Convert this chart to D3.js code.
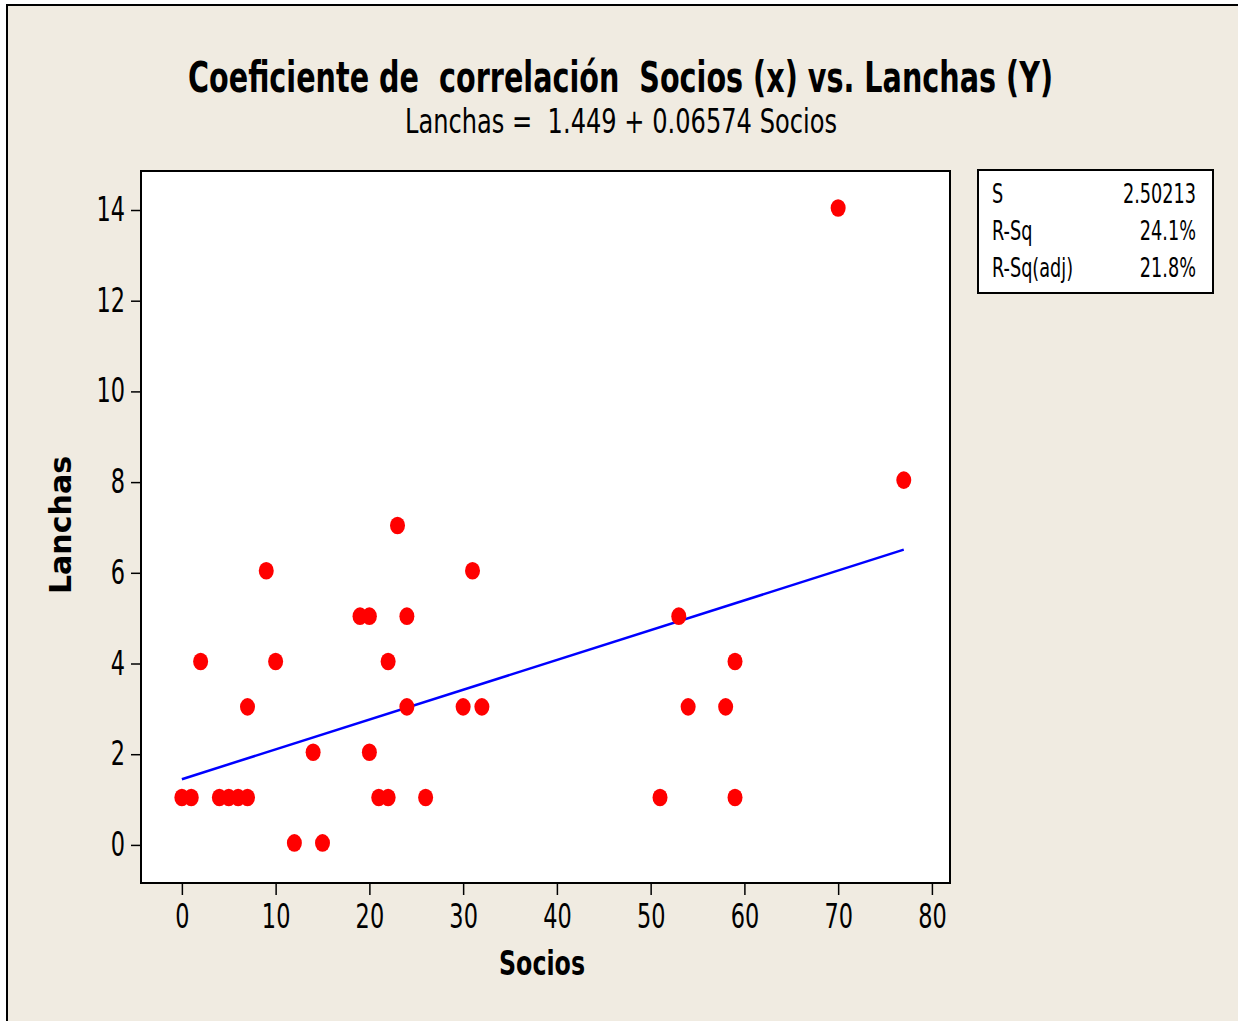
<!DOCTYPE html>
<html>
<head>
<meta charset="utf-8">
<script src="https://cdn.jsdelivr.net/npm/d3@7"></script>
<style>
  body { margin: 0; background: #ffffff; }
  text { font-family: "DejaVu Sans", Verdana, sans-serif; fill: #000; white-space: pre; }
</style>
</head>
<body>
<svg id="chart" width="1238" height="1021"></svg>
<script>
// data
const socios = [0, 1, 4, 5, 6, 7, 21, 22, 26, 51, 59,
  12, 15,
  14, 20,
  7, 24, 30, 32, 54, 58,
  2, 10, 22, 59,
  19, 20, 24, 53,
  9, 31,
  23,
  77,
  70];
const lanchas = [1, 1, 1, 1, 1, 1, 1, 1, 1, 1, 1,
  0, 0,
  2, 2,
  3, 3, 3, 3, 3, 3,
  4, 4, 4, 4,
  5, 5, 5, 5,
  6, 6,
  7,
  8,
  14];
const xTicks = [0, 10, 20, 30, 40, 50, 60, 70, 80];
const yTicks = [0, 2, 4, 6, 8, 10, 12, 14];
const intercept = 1.449;
const slope = 0.06574;
const statLabels = ["S", "R-Sq", "R-Sq(adj)"];
const statValues = ["2.50213", "24.1%", "21.8%"];

const SX = 0.68; // horizontal squeeze of the original fonts

const svg = d3.select("#chart");
const plot = { left: 141, top: 171, right: 950, bottom: 883 };

const x = d3.scaleLinear().domain([-4.36, 81.93]).range([plot.left, plot.right]);
const y = d3.scaleLinear().domain([-0.84, 14.86]).range([plot.bottom, plot.top]);

// page background and frame
svg.append("rect")
  .attr("x", 7).attr("y", 5).attr("width", 1245).attr("height", 1030)
  .attr("fill", "#f0ebe1").attr("stroke", "#000").attr("stroke-width", 2);

// titles
svg.append("text")
  .attr("x", 188).attr("y", 92)
  .attr("font-size", 42).attr("font-weight", "bold")
  .attr("textLength", 865).attr("lengthAdjust", "spacingAndGlyphs")
  .text("Coeficiente de  correlación  Socios (x) vs. Lanchas (Y)");

svg.append("text")
  .attr("x", 405).attr("y", 133)
  .attr("font-size", 33)
  .attr("textLength", 432).attr("lengthAdjust", "spacingAndGlyphs")
  .text("Lanchas =  1.449 + 0.06574 Socios");

// plot area
svg.append("rect")
  .attr("x", plot.left).attr("y", plot.top)
  .attr("width", plot.right - plot.left).attr("height", plot.bottom - plot.top)
  .attr("fill", "#fff").attr("stroke", "#000").attr("stroke-width", 2);

// axes
const xAxis = svg.append("g")
  .attr("transform", `translate(0,${plot.bottom})`)
  .call(d3.axisBottom(x).tickValues(xTicks).tickSize(12).tickSizeOuter(0).tickPadding(10));
xAxis.select(".domain").remove();
xAxis.selectAll(".tick line").attr("stroke", "#000").attr("stroke-width", 1.5);
xAxis.selectAll(".tick text")
  .attr("font-size", 33).attr("font-family", "DejaVu Sans")
  .attr("transform", `scale(${SX},1)`);

const yAxis = svg.append("g")
  .attr("transform", `translate(${plot.left},0)`)
  .call(d3.axisLeft(y).tickValues(yTicks).tickSize(10).tickSizeOuter(0).tickPadding(6));
yAxis.select(".domain").remove();
yAxis.selectAll(".tick line").attr("stroke", "#000").attr("stroke-width", 1.5);
yAxis.selectAll(".tick text")
  .attr("font-size", 33).attr("font-family", "DejaVu Sans")
  .attr("x", -16 / SX)
  .attr("transform", `scale(${SX},1)`);

// axis titles
svg.append("text")
  .attr("x", 499).attr("y", 975)
  .attr("font-size", 34).attr("font-weight", "bold")
  .attr("textLength", 86).attr("lengthAdjust", "spacingAndGlyphs")
  .text("Socios");

svg.append("text")
  .attr("transform", "translate(71,594) rotate(-90)")
  .attr("font-size", 30).attr("font-weight", "bold")
  .attr("textLength", 138).attr("lengthAdjust", "spacingAndGlyphs")
  .text("Lanchas");

// fitted line
const xExtent = d3.extent(socios);
svg.append("line")
  .attr("x1", x(xExtent[0])).attr("y1", y(intercept + slope * xExtent[0]))
  .attr("x2", x(xExtent[1])).attr("y2", y(intercept + slope * xExtent[1]))
  .attr("stroke", "#0000ff").attr("stroke-width", 2.5);

// points
svg.append("g").selectAll("ellipse")
  .data(socios.map((s, i) => [s, lanchas[i]]))
  .enter()
  .append("ellipse")
  .attr("cx", (d) => x(d[0]))
  .attr("cy", (d) => y(d[1]) - 2)
  .attr("rx", 7.5)
  .attr("ry", 8.8)
  .attr("fill", "#ff0000");

// stats box
svg.append("rect")
  .attr("x", 978).attr("y", 170).attr("width", 235).attr("height", 123)
  .attr("fill", "#fff").attr("stroke", "#000").attr("stroke-width", 2);

statLabels.forEach((lab, i) => {
  const by = 203 + i * 37;
  svg.append("text")
    .attr("transform", `translate(992,${by}) scale(${SX},1)`)
    .attr("font-size", 26)
    .text(lab);
  svg.append("text")
    .attr("transform", `translate(1196,${by}) scale(${SX},1)`)
    .attr("font-size", 26)
    .attr("text-anchor", "end")
    .text(statValues[i]);
});
</script>
</body>
</html>
